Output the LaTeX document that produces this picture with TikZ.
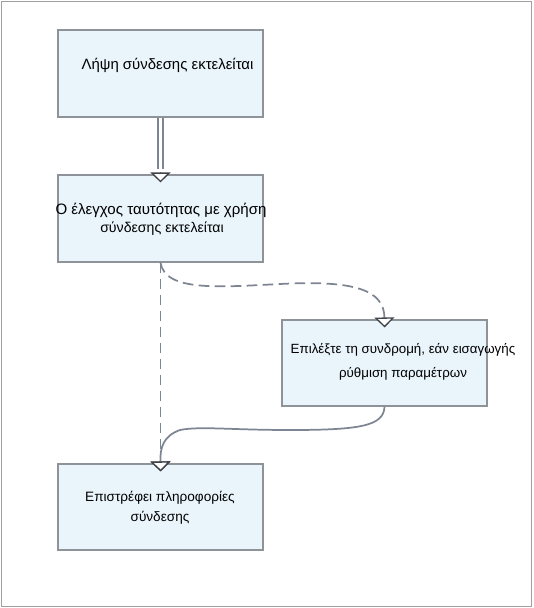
\documentclass[tikz,border=0pt]{standalone}
\usepackage{fontspec}
\setmainfont{Liberation Sans}
\usetikzlibrary{arrows.meta,calc}
\definecolor{boxfill}{HTML}{EAF4FB}
\definecolor{boxline}{HTML}{8E9399}
\definecolor{conn}{HTML}{7E8592}
\definecolor{tipc}{HTML}{404448}
\definecolor{frame}{HTML}{A0A0A0}
\begin{document}
\begin{tikzpicture}[x=0.75pt,y=-0.75pt,
  box/.style={draw=boxline, fill=boxfill, line width=1.1pt*0.75, minimum width=205*0.75pt, minimum height=87*0.75pt, inner sep=0pt, rectangle},
  txt/.style={font=\fontsize{10pt}{16pt}\selectfont, align=center, inner sep=0pt, text=black},
  tip/.style={-{Triangle[open, length=7.5pt, width=15pt, fill=white, color=tipc, line width=1pt]}, shorten >=-6pt},
  cline/.style={draw=conn, line width=1.3pt},
  dsh/.style={cline, dash pattern=on 8pt off 4pt}
]
\useasboundingbox (0,0) rectangle (533,608);
\draw[frame, line width=1.2pt] (1.5,1.5) rectangle (531.5,606.5);

\node[box] (b1) at (160.5,73.5) {};
\node[box] (b2) at (160.5,218.5) {};
\node[box, minimum height=86*0.75pt] (b3) at (384.5,363) {};
\node[box, minimum height=86*0.75pt] (b4) at (160.5,507) {};

\node[txt, font=\fontsize{11.2pt}{16pt}\selectfont] (t1) at (167.5,65) {Λήψη σύνδεσης εκτελείται};
\node[txt, font=\fontsize{11.3pt}{16pt}\selectfont, anchor=base] (t2a) at (161,214) {Ο έλεγχος ταυτότητας με χρήση};
\node[txt, font=\fontsize{10.6pt}{16pt}\selectfont, anchor=base] (t2b) at (162,232) {σύνδεσης εκτελείται};
\node[txt, font=\fontsize{10pt}{18pt}\selectfont] (t3) at (403,362) {Επιλέξτε τη συνδρομή, εάν εισαγωγής\\ρύθμιση παραμέτρων};
\node[txt, font=\fontsize{10.2pt}{15pt}\selectfont] (t4) at (160,508) {Επιστρέφει πληροφορίες\\σύνδεσης};

% double connector
\draw[draw=conn, line width=1.2pt, double=white, double distance=2.6pt, shorten >=4pt] (b1.south) -- (b2.north);
\draw[cline, tip] ($(b2.north)+(0,-2)$) -- (b2.north);

% dashed connectors
\draw[dsh, tip] (b2.south) .. controls (165,292) and (220,287) .. (280,284) .. controls (355,280) and (384,290) .. (b3.north);
\draw[dsh, tip] (b2.south) -- (b4.north);

% solid connector
\draw[cline, tip] (b3.south) .. controls (384,426) and (360,430) .. (290,430) .. controls (230,430) and (200,426) .. (180,430) .. controls (163,436) and (160,448) .. (b4.north);
\end{tikzpicture}
\end{document}
